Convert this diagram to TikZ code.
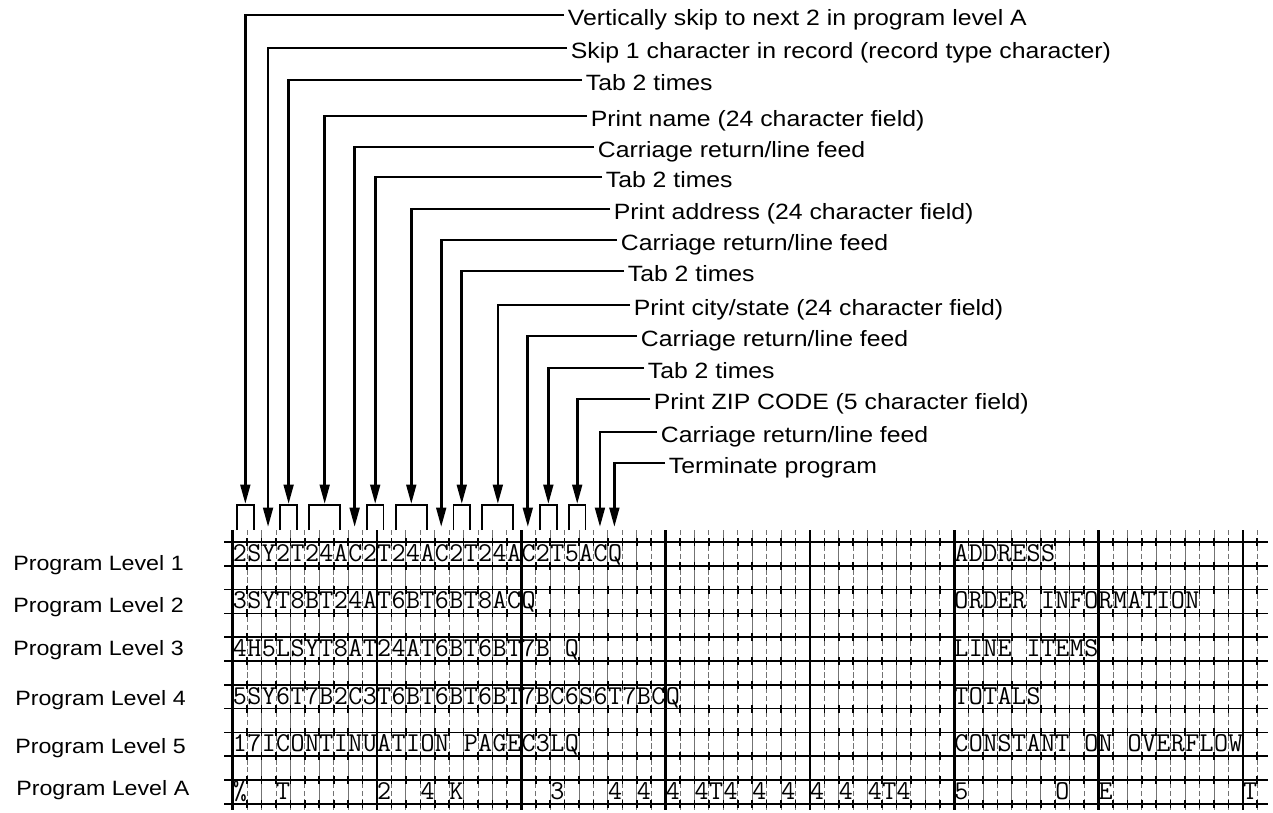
\documentclass[tikz,border=0pt]{standalone}
\usepackage{fontspec}
\setmainfont{Liberation Sans}
\newfontfamily\labelfont[FakeStretch=1.12]{Liberation Sans}
\usetikzlibrary{arrows.meta, calc}

\begin{document}
\begin{tikzpicture}[
    x=0.02cm, y=-0.02cm, % one unit = one pixel of the form sheet, y runs down
    >={Triangle[length=11pt, width=5.5pt]},
    lab/.style={anchor=west, inner sep=2pt, text height=12.5pt, text depth=0pt,
        font=\labelfont\fontsize{12.6pt}{14pt}\selectfont},
    lvl/.style={anchor=base west, inner sep=0pt,
        font=\labelfont\fontsize{11.8pt}{14pt}\selectfont},
    chr/.style={anchor=base, inner sep=0pt, font=\ttfamily\fontsize{15.5pt}{17pt}\selectfont},
    callout/.style={line width=1.5pt, ->},
    bracket/.style={line width=1.1pt},
    major/.style={line width=1.5pt},
    minor/.style={line width=0.5pt, black!55},
    hline/.style={line width=0.95pt},
    cross/.style={line width=0.9pt}
]

    % === DEFINITIONS ===
    \def\xo{232.7}  % left edge of column 0
    \def\cw{14.43}  % width of one character column
    \def\yo{542}    % top rule of the form
    \def\rh{23.8}   % distance between two rules

    \useasboundingbox (0,0) rectangle (1273,813);

    % === 1. THE CODING FORM GRID ===
    % minor column lines (every other one broken)
    \foreach \k in {1,3,...,71}
        \draw[minor, dash pattern=on 3pt off 1.5pt] ({\xo+\k*\cw},530) -- ({\xo+\k*\cw},810);
    \foreach \k in {2,4,...,70}
        \draw[minor] ({\xo+\k*\cw},530) -- ({\xo+\k*\cw},810);

    % horizontal rules
    \foreach \j in {0,...,11}
        \draw[hline] (224,{\yo+\j*\rh}) -- (1268,{\yo+\j*\rh});
    \draw[line width=1.4pt] (224,{\yo+6*\rh}) -- (1268,{\yo+6*\rh});

    % every tenth column is heavy
    \foreach \k in {0,10,...,70}
        \draw[major] ({\xo+\k*\cw},530) -- ({\xo+\k*\cw},810);

    % small crosses where rules meet
    \foreach \j in {0,...,11}
        \foreach \k in {0,...,71}
            \draw[cross] ({\xo+\k*\cw},{\yo+\j*\rh-4}) -- ++(0,8);


    % === 2. CONTENTS OF THE PROGRAM LEVELS ===
    % left field, starting in column 0
    \foreach \r/\chars in {
        0/{2,S,Y,2,T,2,4,A,C,2,T,2,4,A,C,2,T,2,4,A,C,2,T,5,A,C,Q},
        1/{3,S,Y,T,8,B,T,2,4,A,T,6,B,T,6,B,T,8,A,C,Q},
        2/{4,H,5,L,S,Y,T,8,A,T,2,4,A,T,6,B,T,6,B,T,7,B,{},Q},
        3/{5,S,Y,6,T,7,B,2,C,3,T,6,B,T,6,B,T,6,B,T,7,B,C,6,S,6,T,7,B,C,Q},
        4/{1,7,I,C,O,N,T,I,N,U,A,T,I,O,N,{},P,A,G,E,C,3,L,Q}}
        \foreach \ch [count=\i from 0] in \chars
            \node[chr] (c\r-\i) at ({\xo+(\i+0.5)*\cw},{\yo+2*\r*\rh+19.3}) {\ch};

    % constants, starting in column 50
    \foreach \r/\chars in {
        0/{A,D,D,R,E,S,S},
        1/{O,R,D,E,R,{},I,N,F,O,R,M,A,T,I,O,N},
        2/{L,I,N,E,{},I,T,E,M,S},
        3/{T,O,T,A,L,S},
        4/{C,O,N,S,T,A,N,T,{},O,N,{},O,V,E,R,F,L,O,W}}
        \foreach \ch [count=\i from 50] in \chars
            \node[chr] (c\r-\i) at ({\xo+(\i+0.5)*\cw},{\yo+2*\r*\rh+19.3}) {\ch};

    % program level A (tab stops and skips)
    \foreach \k/\ch in {0/\%, 3/T, 10/2, 13/4, 15/K, 22/3, 26/4, 28/4, 30/4, 32/4, 33/T,
            34/4, 36/4, 38/4, 40/4, 42/4, 44/4, 45/T, 46/4, 50/5, 57/O, 60/E, 70/T}
        \node[chr] (c5-\k) at ({\xo+(\k+0.5)*\cw},{\yo+10*\rh+19.3}) {\ch};

    % level names on the left
    \foreach \r/\x/\y in {1/13/570.5, 2/13/612, 3/13/655.5, 4/15/705.5, 5/15/753, A/16/795}
        \node[lvl] (lvl\r) at (\x,\y) {Program Level \r};


    % === 3. BRACKETS AND ARROW TARGETS ABOVE LEVEL 1 ===
    % brackets over several columns
    \foreach \name/\a/\b in {t1/0/1, t3/3/4, t4/5/7, t6/9/10, t7/11/13,
            t9/15/16, t10/17/19, t12/21/22, t13/23/24} {
        \draw[bracket] ({\xo+(\a+0.3)*\cw},530) |- ({\xo+(\b+0.45)*\cw},505)
            -- ({\xo+(\b+0.45)*\cw},530);
        \coordinate (\name) at ({\xo+(\a+\b+0.75)/2*\cw},504);
    }
    % single columns
    \foreach \name/\k in {t2/2, t5/8, t8/14, t11/20, t14/25, t15/26}
        \coordinate (\name) at ({\xo+(\k+0.45)*\cw},527);


    % === 4. EXPLANATIONS WITH CALLOUT LINES ===
    \foreach \i/\x/\y/\txt in {
        1/564/15/{Vertically skip to next 2 in program level A},
        2/567/48/{Skip 1 character in record (record type character)},
        3/582/80/{Tab 2 times},
        4/587/116/{Print name (24 character field)},
        5/594/147/{Carriage return/line feed},
        6/602/177/{Tab 2 times},
        7/610/209/{Print address (24 character field)},
        8/617/240/{Carriage return/line feed},
        9/624/271/{Tab 2 times},
        10/630/305/{Print city/state (24 character field)},
        11/637/336/{Carriage return/line feed},
        12/644/368/{Tab 2 times},
        13/650/399/{Print ZIP CODE (5 character field)},
        14/657/432/{Carriage return/line feed},
        15/665/463/{Terminate program}} {
        \node[lab] (lab\i) at (\x,\y) {\txt};
        \draw[callout] (lab\i.west) -| (t\i);
    }

\end{tikzpicture}
\end{document}
